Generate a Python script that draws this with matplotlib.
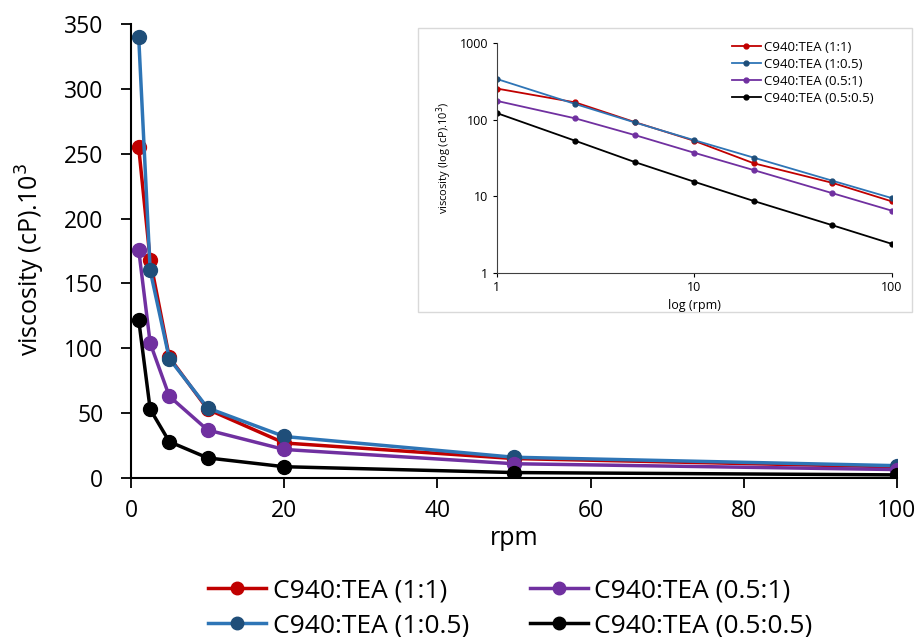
import numpy as np
import matplotlib.pyplot as plt
from matplotlib.patches import Rectangle
from matplotlib.ticker import FixedLocator, NullLocator, FuncFormatter

plt.rcParams['font.family'] = ['Open Sans', 'DejaVu Sans']

rpm = [1, 2.5, 5, 10, 20, 50, 100]
labels = ['C940:TEA (1:1)', 'C940:TEA (1:0.5)', 'C940:TEA (0.5:1)', 'C940:TEA (0.5:0.5)']
visc_11 = [255, 168, 93, 53, 27, 15, 8.6]
visc_105 = [340, 160, 92, 54, 32, 16, 9.5]
visc_051 = [176, 104, 63, 37, 22, 11, 6.5]
visc_0505 = [122, 53, 28, 15.5, 8.7, 4.2, 2.4]

series = [visc_11, visc_105, visc_051, visc_0505]
line_colors = ['#C00000', '#2E75B6', '#7030A0', '#000000']
marker_colors = ['#C00000', '#1F4E79', '#7030A0', '#000000']

fig = plt.figure(figsize=(9.15, 6.37), dpi=100)
ax = fig.add_axes([0.1432, 0.2496, 0.837, 0.7127])

for vals, lc, mc, lab in zip(series, line_colors, marker_colors, labels):
    ax.plot(rpm, vals, '-o', color=lc, markerfacecolor=mc, markeredgecolor=mc,
            linewidth=2.5, markersize=10, label=lab)

ax.set_xlim(0, 100)
ax.set_ylim(0, 350)
ax.set_xticks(np.arange(0, 101, 20))
ax.set_yticks(np.arange(0, 351, 50))
ax.tick_params(labelsize=16.5, width=1.3, length=7, direction='out')
ax.tick_params(axis='y', pad=13)
ax.tick_params(axis='x', pad=8)
ax.spines['top'].set_visible(False)
ax.spines['right'].set_visible(False)
ax.spines['left'].set_linewidth(1.5)
ax.spines['bottom'].set_linewidth(1.5)
ax.set_xlabel('rpm', fontsize=18)
ax.set_ylabel('viscosity (cP).10$^3$', fontsize=18)
ax.xaxis.set_label_coords(0.5, -0.106)
ax.yaxis.set_label_coords(-0.110, 0.48)

fig.legend(loc='upper left', bbox_to_anchor=(208 / 915, 1 - 578 / 637), ncol=2,
           frameon=False, fontsize=19, handlelength=2.2, handletextpad=0.25,
           columnspacing=2.3, labelspacing=0.38, borderpad=0, borderaxespad=0,
           markerscale=0.9)

# inset box
fig.patches.append(Rectangle((418 / 915, 1 - 312 / 637), 494 / 915, 284 / 637,
                             transform=fig.transFigure, facecolor='white',
                             edgecolor='#D9D9D9', linewidth=1, zorder=2))

ins = fig.add_axes([0.543, 0.5714, 0.4317, 0.361], zorder=3)
ins.patch.set_alpha(0)
for vals, lc, mc, lab in zip(series, line_colors, marker_colors, labels):
    ins.plot(rpm, vals, '-o', color=lc, markerfacecolor=mc, markeredgecolor=mc,
             linewidth=1.3, markersize=3.5, label=lab)
ins.set_xscale('log')
ins.set_yscale('log')
ins.set_xlim(1, 100)
ins.set_ylim(1, 1000)
ins.xaxis.set_major_locator(FixedLocator([1, 10, 100]))
ins.yaxis.set_major_locator(FixedLocator([1, 10, 100, 1000]))
ins.xaxis.set_minor_locator(NullLocator())
ins.yaxis.set_minor_locator(NullLocator())
fmt = FuncFormatter(lambda v, p: f'{v:g}')
ins.xaxis.set_major_formatter(fmt)
ins.yaxis.set_major_formatter(fmt)
ins.tick_params(labelsize=9, length=3, width=0.8, pad=3, direction='out')
ins.spines['top'].set_visible(False)
ins.spines['right'].set_visible(False)
ins.spines['left'].set_color('#404040')
ins.spines['bottom'].set_color('#404040')
ins.set_xlabel('log (rpm)', fontsize=9, labelpad=3)
ins.set_ylabel('viscosity (log (cP).10$^3$)', fontsize=8, labelpad=4)
ins.legend(loc='upper left', bbox_to_anchor=(235 / 395, 1.01), frameon=False,
           fontsize=9.5, handlelength=2.2, handletextpad=0.2, labelspacing=0.3,
           borderpad=0, borderaxespad=0)

fig.savefig('out.png', dpi=100)
